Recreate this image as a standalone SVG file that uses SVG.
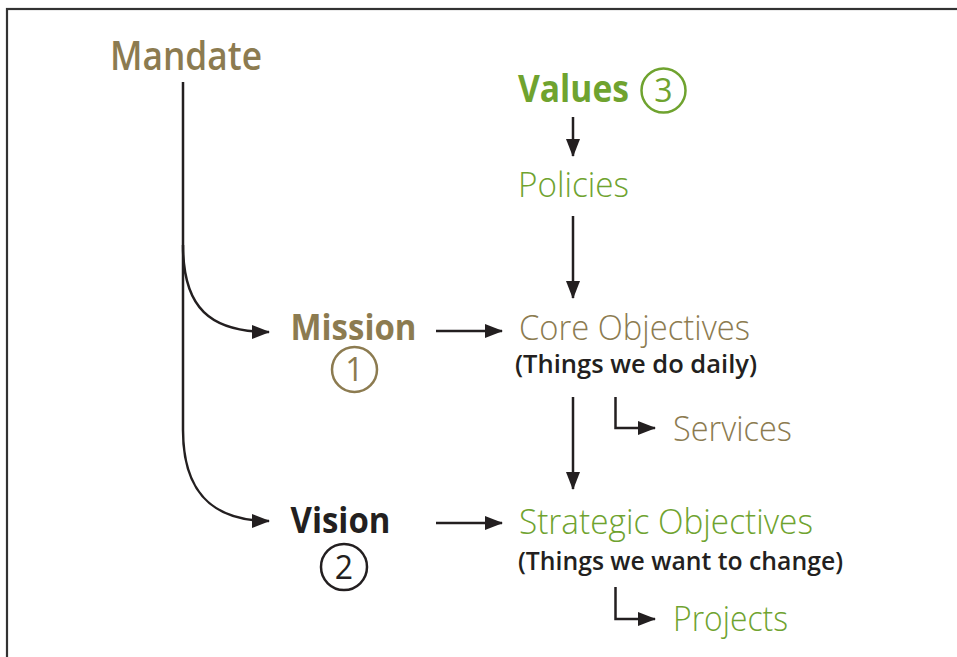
<svg xmlns="http://www.w3.org/2000/svg" width="957" height="657" viewBox="0 0 957 657">
<style>
text{font-family:"Open Sans","Liberation Sans",sans-serif}
.brown{fill:#8C7B50}
.green{fill:#6FA32F}
.black{fill:#231F20}
.light{font-weight:300;font-size:34px}
.bold{font-weight:700;font-size:35px}
.sub{font-weight:600;font-size:25px;fill:#231F20}
.ln{fill:none;stroke:#231F20;stroke-width:2.5}
.circ{fill:none;stroke-width:2.5}
.num{font-size:32px;font-weight:400;text-anchor:middle}
</style>
<defs>
<marker id="ah" markerWidth="18" markerHeight="14" refX="17" refY="7" orient="auto" markerUnits="userSpaceOnUse">
<path d="M0,0 L18,7 L0,14 Z" fill="#231F20"/>
</marker>
</defs>
<rect x="7" y="9" width="980" height="700" fill="#fff" stroke="#333" stroke-width="2.2"/>
<g id="connectors">
<path class="ln" d="M183,82 V430 C183,490 210,521 269,521" marker-end="url(#ah)"/>
<path class="ln" d="M183,245 C183,308 210,332 269,332" marker-end="url(#ah)"/>
<path class="ln" d="M573,117 V156" marker-end="url(#ah)"/>
<path class="ln" d="M573,216 V298" marker-end="url(#ah)"/>
<path class="ln" d="M436,331 H502" marker-end="url(#ah)"/>
<path class="ln" d="M436,523 H502" marker-end="url(#ah)"/>
<path class="ln" d="M573,397 V489" marker-end="url(#ah)"/>
<path class="ln" d="M615.5,397 V428 H655" marker-end="url(#ah)"/>
<path class="ln" d="M615.5,587 V619 H655" marker-end="url(#ah)"/>
</g>
<g id="mandate"><text x="110" y="70" class="brown" font-size="40" font-weight="600" textLength="152" lengthAdjust="spacingAndGlyphs">Mandate</text></g>
<g id="values">
<text x="518" y="102" class="green" font-size="38" font-weight="700" textLength="111" lengthAdjust="spacingAndGlyphs">Values</text>
<circle cx="663.5" cy="90.5" r="22" class="circ" stroke="#6FA32F"/>
<text x="663.5" y="102" class="num green">3</text>
</g>
<g id="policies"><text x="518" y="197" class="light green" textLength="111" lengthAdjust="spacingAndGlyphs">Policies</text></g>
<g id="mission">
<text x="290.5" y="340" class="bold brown" textLength="126" lengthAdjust="spacingAndGlyphs">Mission</text>
<circle cx="354.5" cy="369.5" r="22.5" class="circ" stroke="#8C7B50"/>
<text x="354.5" y="381" class="num brown">1</text>
</g>
<g id="vision">
<text x="290.5" y="533" class="bold black" textLength="100" lengthAdjust="spacingAndGlyphs">Vision</text>
<circle cx="344" cy="567" r="23" class="circ" stroke="#231F20"/>
<text x="344" y="578.5" class="num black">2</text>
</g>
<g id="core">
<text x="519" y="340" class="light brown" textLength="231" lengthAdjust="spacingAndGlyphs">Core Objectives</text>
<text x="515" y="373" class="sub" textLength="242" lengthAdjust="spacingAndGlyphs">(Things we do daily)</text>
</g>
<g id="services"><text x="673" y="441" class="light brown" textLength="119" lengthAdjust="spacingAndGlyphs">Services</text></g>
<g id="strategic">
<text x="519" y="534" class="light green" textLength="294" lengthAdjust="spacingAndGlyphs">Strategic Objectives</text>
<text x="518" y="570" class="sub" textLength="325" lengthAdjust="spacingAndGlyphs">(Things we want to change)</text>
</g>
<g id="projects"><text x="673" y="631" class="light green" textLength="115" lengthAdjust="spacingAndGlyphs">Projects</text></g>
</svg>
